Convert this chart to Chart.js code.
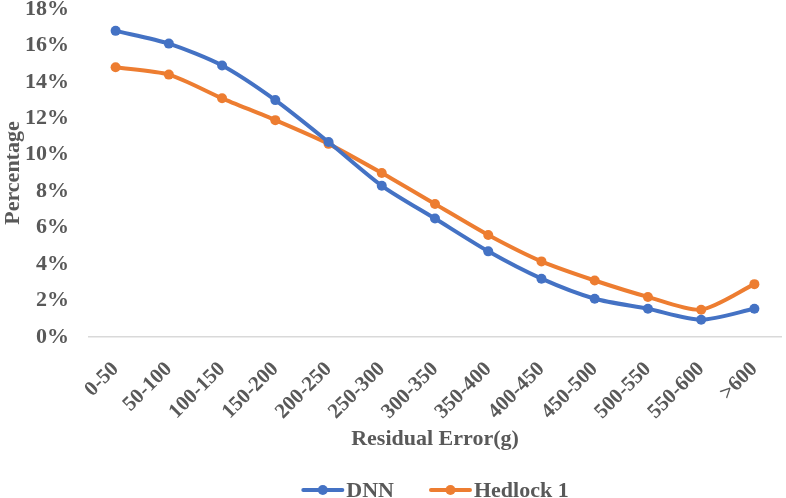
<!DOCTYPE html>
<html>
<head>
<meta charset="utf-8">
<script src="https://cdn.jsdelivr.net/npm/chart.js@4.4.1/dist/chart.umd.min.js"></script>
<style>
    html, body { margin: 0; padding: 0; background: #fff; }
    #wrap { width: 786px; height: 498px; position: relative; }
</style>
</head>
<body>
<div id="wrap"><canvas id="chart"></canvas></div>
<script>
const categories = ['0-50', '50-100', '100-150', '150-200', '200-250', '250-300', '300-350',
    '350-400', '400-450', '450-500', '500-550', '550-600', '>600'];
const dnnValues = [16.8, 16.1, 14.9, 13.0, 10.7, 8.3, 6.5, 4.7, 3.2, 2.1, 1.55, 0.95, 1.55];
const hedlockValues = [14.8, 14.4, 13.1, 11.9, 10.6, 9.0, 7.3, 5.6, 4.15, 3.1, 2.2, 1.5, 2.9];
const yTicks = [0, 2, 4, 6, 8, 10, 12, 14, 16, 18];

const textColor = '#595959';
const fontFamily = '"Liberation Serif", "Times New Roman", serif';

// Excel-style legend under the plot: line with a dot, label right after it
const bottomLegend = {
    id: 'bottomLegend',
    afterDraw(chart) {
        const ctx = chart.ctx;
        const area = chart.chartArea;
        const cy = 490;
        const lineLen = 43;
        const gapText = 2;
        const gapItems = 35;
        ctx.save();
        ctx.font = 'bold 22px ' + fontFamily;
        const items = chart.data.datasets.map(ds => ({
            label: ds.label,
            color: ds.borderColor,
            w: ctx.measureText(ds.label).width,
        }));
        const total = items.reduce((s, it) => s + lineLen + gapText + it.w, 0) + gapItems * (items.length - 1);
        let x = (area.left + area.right) / 2 - total / 2;
        items.forEach(it => {
            ctx.strokeStyle = it.color;
            ctx.fillStyle = it.color;
            ctx.lineWidth = 4;
            ctx.lineCap = 'round';
            ctx.beginPath();
            ctx.moveTo(x + 2, cy);
            ctx.lineTo(x + lineLen - 2, cy);
            ctx.stroke();
            ctx.beginPath();
            ctx.arc(x + lineLen / 2, cy, 5, 0, Math.PI * 2);
            ctx.fill();
            ctx.fillStyle = textColor;
            ctx.textBaseline = 'middle';
            ctx.textAlign = 'left';
            ctx.fillText(it.label, x + lineLen + gapText, cy + 1);
            x += lineLen + gapText + it.w + gapItems;
        });
        ctx.restore();
    },
};

new Chart(document.getElementById('chart'), {
    type: 'line',
    data: {
        labels: categories,
        datasets: [{
            label: 'DNN',
            data: dnnValues,
            borderColor: '#4472C4',
            backgroundColor: '#4472C4',
            borderWidth: 4,
            pointRadius: 5,
            pointBackgroundColor: '#4472C4',
            pointBorderWidth: 0,
            tension: 0.25,
        }, {
            label: 'Hedlock 1',
            data: hedlockValues,
            borderColor: '#ED7D31',
            backgroundColor: '#ED7D31',
            borderWidth: 4,
            pointRadius: 5,
            pointBackgroundColor: '#ED7D31',
            pointBorderWidth: 0,
            tension: 0.25,
        }],
    },
    options: {
        responsive: true,
        maintainAspectRatio: false,
        animation: false,
        layout: {
            padding: { top: 9, right: 2, left: 0, bottom: 45 },
        },
        plugins: {
            legend: { display: false },
            tooltip: { enabled: false },
        },
        scales: {
            x: {
                offset: true,
                grid: { display: false },
                border: { display: true, color: '#d9d9d9', width: 1.5 },
                ticks: {
                    color: textColor,
                    font: { family: fontFamily, size: 21, weight: 'bold' },
                    maxRotation: 45,
                    minRotation: 45,
                    padding: 12,
                },
                title: {
                    display: true,
                    text: 'Residual Error(g)',
                    color: textColor,
                    font: { family: fontFamily, size: 22, weight: 'bold' },
                    padding: { top: 4, bottom: 0 },
                },
                afterFit(axis) {
                    axis.height = 116;
                },
            },
            y: {
                min: 0,
                max: 18,
                afterBuildTicks(axis) {
                    axis.ticks = yTicks.map(v => ({ value: v }));
                },
                afterFit(axis) {
                    axis.width = 89;
                    axis.paddingTop = 0;
                    axis.paddingBottom = 0;
                },
                grid: { display: false },
                border: { display: false },
                ticks: {
                    color: textColor,
                    font: { family: fontFamily, size: 22, weight: 'bold' },
                    padding: 12,
                    callback: v => v + '%',
                },
                title: {
                    display: true,
                    text: 'Percentage',
                    color: textColor,
                    font: { family: fontFamily, size: 22, weight: 'bold' },
                    padding: { top: 0, bottom: 0 },
                },
            },
        },
    },
    plugins: [bottomLegend],
});
</script>
</body>
</html>
